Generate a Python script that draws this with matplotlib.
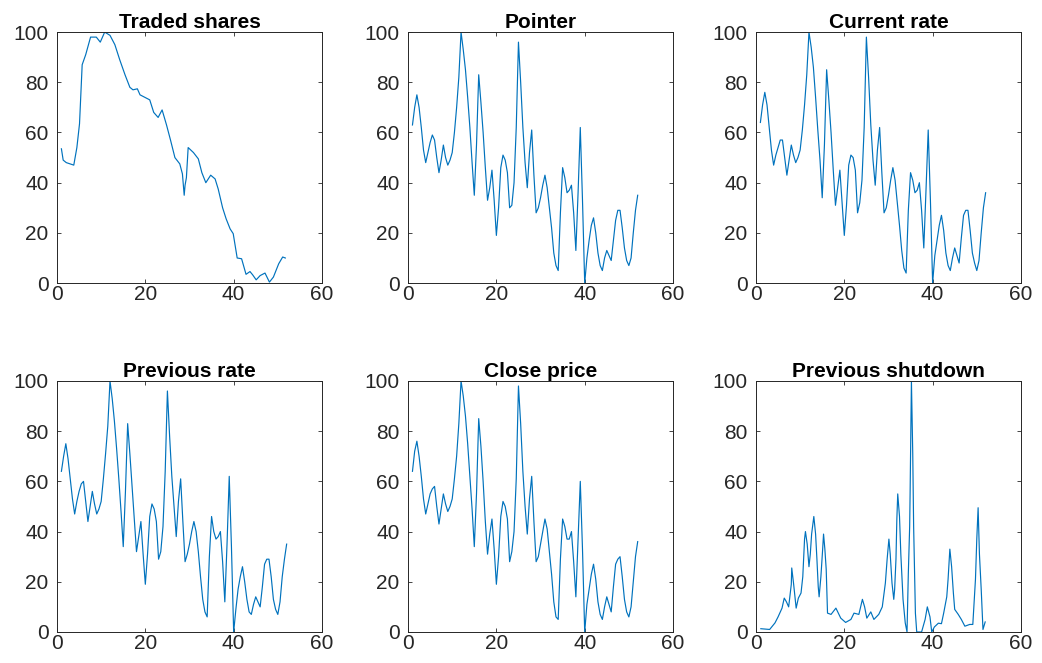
import numpy as np
import matplotlib
matplotlib.use("Agg")
import matplotlib.pyplot as plt

plt.rcParams['font.family'] = ['Liberation Sans', 'DejaVu Sans']

# x grid used by the four rate/price series (half-unit steps, 1..52)
x_half = np.arange(1, 52.01, 0.5)

pointer = [63, 70, 75, 70, 62, 53, 48, 52, 56, 59,
           57, 50, 44, 49, 55, 50, 47, 49, 52, 60,
           70, 82, 100, 93, 85, 74, 62, 48, 35, 55,
           83, 72, 60, 46, 33, 38, 45, 33, 19, 30,
           46, 51, 49, 44, 30, 31, 40, 62, 96, 80,
           62, 48, 38, 52, 61, 43, 28, 30, 34, 39,
           43, 38, 30, 22, 12, 7, 5, 28, 46, 42,
           36, 37, 39, 28, 13, 36, 62, 33, 0, 10,
           17, 23, 26, 20, 12, 7, 5, 10, 13, 11,
           9, 17, 25, 29, 29, 22, 14, 9, 7, 10,
           20, 29, 35]

current_rate = [64, 71, 76, 71, 62, 53, 47, 51, 54, 57,
                57, 50, 43, 49, 55, 51, 48, 50, 53, 61,
                71, 83, 100, 94, 86, 74, 61, 49, 34, 55,
                85, 73, 60, 45, 31, 38, 45, 32, 19, 31,
                47, 51, 50, 45, 28, 32, 41, 62, 98, 82,
                63, 49, 39, 53, 62, 44, 28, 30, 35, 41,
                46, 41, 32, 23, 13, 6, 4, 29, 44, 41,
                36, 37, 40, 29, 14, 37, 61, 33, 0, 11,
                17, 23, 27, 21, 12, 7, 5, 10, 14, 11,
                8, 18, 27, 29, 29, 21, 12, 8, 5, 9,
                20, 30, 36]

previous_rate = [64, 70, 75, 69, 61, 53, 47, 52, 56, 59,
                 60, 52, 44, 50, 56, 51, 47, 49, 52, 61,
                 71, 82, 100, 93, 84, 73, 61, 48, 34, 56,
                 83, 71, 58, 45, 32, 38, 44, 31, 19, 31,
                 46, 51, 49, 44, 29, 32, 42, 64, 96, 78,
                 62, 50, 38, 52, 61, 44, 28, 31, 35, 40,
                 44, 40, 32, 22, 13, 8, 6, 30, 46, 40,
                 37, 38, 40, 28, 12, 35, 62, 34, 0, 9,
                 17, 22, 26, 20, 13, 8, 7, 11, 14, 12,
                 10, 18, 27, 29, 29, 22, 13, 9, 7, 12,
                 22, 29, 35]

close_price = [64, 72, 76, 70, 62, 53, 47, 51, 55, 57,
               58, 50, 43, 49, 55, 51, 48, 50, 53, 61,
               70, 83, 100, 94, 86, 75, 62, 49, 34, 55,
               85, 74, 60, 44, 31, 39, 45, 33, 19, 30,
               46, 52, 50, 45, 28, 32, 40, 61, 98, 83,
               64, 50, 39, 53, 62, 44, 28, 30, 35, 40,
               45, 41, 32, 23, 12, 6, 5, 29, 45, 42,
               37, 37, 40, 28, 14, 37, 60, 33, 0, 11,
               17, 23, 27, 21, 12, 7, 5, 10, 14, 11,
               8, 18, 27, 29, 30, 22, 13, 8, 6, 10,
               20, 30, 36]

traded_x = [1, 1.4, 2.1, 3.8, 4.5, 5.1, 5.7, 6.5, 7.6, 8.9,
            9.8, 10.8, 12, 13.1, 14.2, 15.4, 16.5, 17.2, 18.2, 18.8,
            19.9, 21, 21.9, 22.9, 23.8, 24.8, 25.7, 26.7, 27.8, 28.4,
            28.8, 29.0, 29.3, 29.7, 30.9, 32, 32.8, 33.7, 34.8, 35.8,
            36.5, 37.5, 38.3, 39.2, 39.9, 40.8, 41.8, 42.8, 43.7, 44.3,
            45.1, 46, 47.1, 48.1, 49, 50.2, 51.1, 51.7]
traded_shares = [53.5, 49, 48, 47, 54, 63.5, 87, 91, 98, 98,
                 96, 100, 98.7, 95, 89, 83, 78, 77, 77.4, 75,
                 74, 73, 68, 66, 69, 63, 57, 50, 47.5, 43.5,
                 35, 39, 42, 54, 52, 49.5, 44, 40, 43, 41.5,
                 37.5, 30, 25.6, 21.6, 19.7, 10, 9.7, 3.5, 4.6, 3.3,
                 1.3, 3, 4, 0.4, 2.4, 7.7, 10.4, 10]

shutdown_x = [1.1, 3.1, 4.3, 5, 5.9, 6.4, 6.9, 7.4, 8, 8.1,
              8.5, 9.1, 9.6, 10.2, 10.6, 11, 11.2, 11.6, 12, 12.3,
              12.6, 13.1, 13.5, 13.8, 14.1, 14.3, 14.7, 15.1, 15.3, 15.6,
              15.9, 16.2, 17, 18.1, 19.2, 20.3, 21.5, 22.2, 23.3, 24.1,
              24.6, 25.1, 26, 26.7, 27.8, 28.6, 29.3, 29.7, 30.1, 30.4,
              30.8, 31.2, 31.4, 31.7, 31.9, 32.1, 32.5, 32.8, 33.3, 33.8,
              34.2, 34.5, 34.8, 34.9, 35.2, 35.5, 35.7, 36.1, 36.4, 37.5,
              38.3, 38.8, 39.4, 39.8, 40.4, 41.3, 42, 42.5, 43.2, 43.5,
              43.9, 44.3, 44.7, 45, 45.8, 46.5, 47.3, 48.4, 49.1, 49.7,
              50, 50.3, 50.6, 51, 51.4, 51.9]
previous_shutdown = [1.3, 1, 3.6, 6, 9.5, 13.5, 12, 10, 19, 25.5,
                     19.5, 9.5, 13.5, 15.5, 22, 37, 40, 35, 26, 31,
                     39, 46, 39, 29, 18, 14, 22, 33, 39, 33,
                     25, 7.5, 7, 9.5, 5.5, 3.8, 5, 7.5, 7, 13,
                     10, 5.5, 8, 5, 7, 10, 19.5, 29, 37, 31,
                     19.5, 13, 17, 29, 45, 55, 46, 31, 13, 3.6,
                     0, 23.5, 42, 55, 100, 71, 42, 7.5, 0, 0,
                     5, 10, 6, 0, 2, 3.5, 3.3, 7.5, 14, 21,
                     33, 26, 15.5, 9, 7, 5, 2.3, 3, 3, 21,
                     37, 49.5, 31, 17, 1, 4]

titles = ["Traded shares", "Pointer", "Current rate",
          "Previous rate", "Close price", "Previous shutdown"]

panels = [
    (traded_x, traded_shares),
    (x_half, pointer),
    (x_half, current_rate),
    (x_half, previous_rate),
    (x_half, close_price),
    (shutdown_x, previous_shutdown),
]

line_color = "#0072BD"
axis_color = "#262626"

fig = plt.figure(figsize=(10.42, 6.63), dpi=100)

lefts = [0.0547, 0.3916, 0.7255]
bottoms = [0.573, 0.0468]
w, h = 0.2543, 0.3786

for k, (xs, ys) in enumerate(panels):
    r, c = divmod(k, 3)
    ax = fig.add_axes([lefts[c], bottoms[r], w, h])
    ax.plot(xs, ys, color=line_color, lw=0.85)
    ax.set_xlim(0, 60)
    ax.set_ylim(0, 100)
    ax.set_xticks([0, 20, 40, 60])
    ax.set_yticks([0, 20, 40, 60, 80, 100])
    ax.tick_params(direction="in", top=True, right=True, length=3,
                   width=0.6, colors=axis_color, labelsize=15)
    ax.tick_params(axis="x", pad=1.5)
    ax.tick_params(axis="y", pad=6)
    for s in ax.spines.values():
        s.set_color(axis_color)
        s.set_linewidth(0.7)
    ax.set_title(titles[k], fontsize=15, fontweight="bold", pad=3)

fig.savefig("out.png", dpi=100)
